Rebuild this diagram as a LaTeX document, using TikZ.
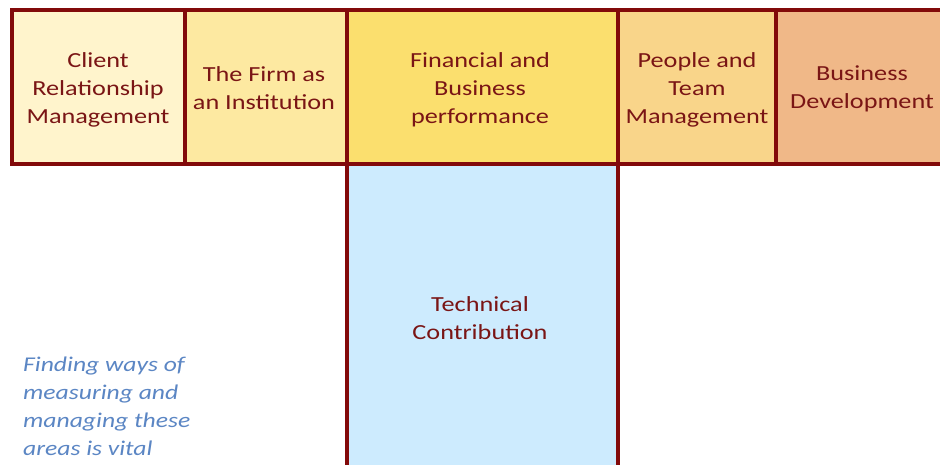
\documentclass[tikz,border=0pt]{standalone}
\usepackage{fontspec}
\setmainfont{Carlito}[FakeStretch=1.22]
\usetikzlibrary{positioning}
\definecolor{bord}{HTML}{820A0A}
\definecolor{txt}{HTML}{7A1515}
\definecolor{cA}{HTML}{FFF4CC}
\definecolor{cB}{HTML}{FDE9A1}
\definecolor{cC}{HTML}{FBDF6E}
\definecolor{cD}{HTML}{F9D58A}
\definecolor{cE}{HTML}{F0B888}
\definecolor{cT}{HTML}{CDEBFE}
\definecolor{note}{HTML}{5B86C4}
\tikzset{
  box/.style={draw=bord, line width=3.2pt, anchor=north west, inner sep=0pt, outer sep=0pt},
  lbl/.style={text=txt, align=center, font=\fontsize{21.5}{28}\selectfont, inner sep=0pt},
}
\begin{document}
\begin{tikzpicture}[x=1pt,y=-1pt]
\clip (0,0) rectangle (940,465);
\fill[white] (0,0) rectangle (940,465);
\node[box, fill=cT, minimum width=271pt, minimum height=330pt] (tech) at (347,164) {};
\node[box, fill=cA, minimum width=173pt, minimum height=154pt] (b1) at (12,10) {};
\node[box, fill=cB, minimum width=162pt, minimum height=154pt] (b2) at (185,10) {};
\node[box, fill=cC, minimum width=271pt, minimum height=154pt] (b3) at (347,10) {};
\node[box, fill=cD, minimum width=158pt, minimum height=154pt] (b4) at (618,10) {};
\node[box, fill=cE, minimum width=180pt, minimum height=154pt] (b5) at (776,10) {};
\node[lbl] (t1) at (98,90) {Client\\Relationship\\Management};
\node[lbl] (t2) at (264,88) {The Firm as\\an Institution};
\node[lbl] (t3) at (480,90) {Financial and\\Business\\performance};
\node[lbl] (t4) at (697,90) {People and\\Team\\Management};
\node[lbl] (t5) at (862,89) {Business\\Development};
\node[lbl] (tt) at (480,318) {Technical\\Contribution};
\node[text=note, align=left, anchor=north west, inner sep=0pt, font=\fontsize{21}{28}\selectfont\itshape] (n) at (23,357) {Finding ways of\\measuring and\\managing these\\areas is vital};
\end{tikzpicture}
\end{document}
